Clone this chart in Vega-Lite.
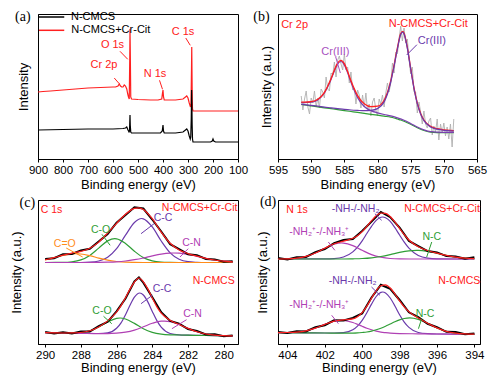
{
"$schema":"https://vega.github.io/schema/vega-lite/v6.json",
"padding":{"left":9,"top":9,"right":2,"bottom":2},
"config":{"view":{"stroke":"black","strokeWidth":1},
"axis":{"grid":false,"domainColor":"black","tickColor":"black","labelColor":"black","titleColor":"black","labelFontSize":11.5,"titleFontSize":13,"titleFontWeight":"normal","labelFont":"Liberation Sans","titleFont":"Liberation Sans","tickSize":3,"labelPadding":2,"labelFlush":false,"labelOverlap":false},
"text":{"font":"Liberation Sans"}},
"datasets":{
"a_lines":[
{"e":900,"i":67,"s":"N-CMCS+Cr-Cit"},{"e":880,"i":67.5,"s":"N-CMCS+Cr-Cit"},{"e":850,"i":68,"s":"N-CMCS+Cr-Cit"},{"e":800,"i":69,"s":"N-CMCS+Cr-Cit"},{"e":750,"i":70,"s":"N-CMCS+Cr-Cit"},{"e":700,"i":71,"s":"N-CMCS+Cr-Cit"},{"e":650,"i":71.5,"s":"N-CMCS+Cr-Cit"},{"e":600,"i":72,"s":"N-CMCS+Cr-Cit"},{"e":590,"i":72,"s":"N-CMCS+Cr-Cit"},{"e":580,"i":73,"s":"N-CMCS+Cr-Cit"},{"e":575,"i":75,"s":"N-CMCS+Cr-Cit"},{"e":570,"i":73,"s":"N-CMCS+Cr-Cit"},{"e":565,"i":72,"s":"N-CMCS+Cr-Cit"},{"e":560,"i":72,"s":"N-CMCS+Cr-Cit"},{"e":555,"i":74,"s":"N-CMCS+Cr-Cit"},{"e":550,"i":73,"s":"N-CMCS+Cr-Cit"},{"e":545,"i":70,"s":"N-CMCS+Cr-Cit"},{"e":541,"i":65,"s":"N-CMCS+Cr-Cit"},{"e":538,"i":62,"s":"N-CMCS+Cr-Cit"},{"e":535,"i":60,"s":"N-CMCS+Cr-Cit"},{"e":533,"i":100,"s":"N-CMCS+Cr-Cit"},{"e":532,"i":130,"s":"N-CMCS+Cr-Cit"},{"e":531,"i":110,"s":"N-CMCS+Cr-Cit"},{"e":529,"i":62,"s":"N-CMCS+Cr-Cit"},{"e":526,"i":60,"s":"N-CMCS+Cr-Cit"},{"e":500,"i":59.5,"s":"N-CMCS+Cr-Cit"},{"e":450,"i":59,"s":"N-CMCS+Cr-Cit"},{"e":420,"i":59,"s":"N-CMCS+Cr-Cit"},{"e":405,"i":60,"s":"N-CMCS+Cr-Cit"},{"e":402,"i":66,"s":"N-CMCS+Cr-Cit"},{"e":400,"i":69,"s":"N-CMCS+Cr-Cit"},{"e":398,"i":62,"s":"N-CMCS+Cr-Cit"},{"e":395,"i":59,"s":"N-CMCS+Cr-Cit"},{"e":380,"i":59,"s":"N-CMCS+Cr-Cit"},{"e":350,"i":59,"s":"N-CMCS+Cr-Cit"},{"e":320,"i":60,"s":"N-CMCS+Cr-Cit"},{"e":310,"i":62,"s":"N-CMCS+Cr-Cit"},{"e":305,"i":63,"s":"N-CMCS+Cr-Cit"},{"e":300,"i":61,"s":"N-CMCS+Cr-Cit"},{"e":295,"i":56,"s":"N-CMCS+Cr-Cit"},{"e":290,"i":52,"s":"N-CMCS+Cr-Cit"},{"e":288,"i":55,"s":"N-CMCS+Cr-Cit"},{"e":286,"i":90,"s":"N-CMCS+Cr-Cit"},{"e":285,"i":112,"s":"N-CMCS+Cr-Cit"},{"e":284,"i":85,"s":"N-CMCS+Cr-Cit"},{"e":283,"i":60,"s":"N-CMCS+Cr-Cit"},{"e":282,"i":50,"s":"N-CMCS+Cr-Cit"},{"e":280,"i":48,"s":"N-CMCS+Cr-Cit"},{"e":250,"i":48,"s":"N-CMCS+Cr-Cit"},{"e":200,"i":48,"s":"N-CMCS+Cr-Cit"},{"e":150,"i":48,"s":"N-CMCS+Cr-Cit"},{"e":100,"i":48,"s":"N-CMCS+Cr-Cit"},
{"e":900,"i":29,"s":"N-CMCS"},{"e":800,"i":29.5,"s":"N-CMCS"},{"e":700,"i":30,"s":"N-CMCS"},{"e":600,"i":30,"s":"N-CMCS"},{"e":560,"i":30.5,"s":"N-CMCS"},{"e":550,"i":31,"s":"N-CMCS"},{"e":545,"i":32,"s":"N-CMCS"},{"e":540,"i":29,"s":"N-CMCS"},{"e":536,"i":27,"s":"N-CMCS"},{"e":534,"i":28,"s":"N-CMCS"},{"e":533,"i":36,"s":"N-CMCS"},{"e":532,"i":44,"s":"N-CMCS"},{"e":531,"i":34,"s":"N-CMCS"},{"e":529,"i":27,"s":"N-CMCS"},{"e":526,"i":26,"s":"N-CMCS"},{"e":500,"i":26,"s":"N-CMCS"},{"e":450,"i":26,"s":"N-CMCS"},{"e":410,"i":26,"s":"N-CMCS"},{"e":403,"i":28,"s":"N-CMCS"},{"e":400,"i":34,"s":"N-CMCS"},{"e":398,"i":28,"s":"N-CMCS"},{"e":395,"i":26,"s":"N-CMCS"},{"e":350,"i":26,"s":"N-CMCS"},{"e":320,"i":27,"s":"N-CMCS"},{"e":310,"i":29,"s":"N-CMCS"},{"e":305,"i":30,"s":"N-CMCS"},{"e":300,"i":28,"s":"N-CMCS"},{"e":295,"i":23,"s":"N-CMCS"},{"e":291,"i":20,"s":"N-CMCS"},{"e":289,"i":22,"s":"N-CMCS"},{"e":287,"i":40,"s":"N-CMCS"},{"e":285.5,"i":69,"s":"N-CMCS"},{"e":284.5,"i":55,"s":"N-CMCS"},{"e":283.5,"i":35,"s":"N-CMCS"},{"e":282,"i":20,"s":"N-CMCS"},{"e":280,"i":17,"s":"N-CMCS"},{"e":250,"i":17,"s":"N-CMCS"},{"e":210,"i":17,"s":"N-CMCS"},{"e":203,"i":18,"s":"N-CMCS"},{"e":200,"i":20,"s":"N-CMCS"},{"e":197,"i":18,"s":"N-CMCS"},{"e":190,"i":17,"s":"N-CMCS"},{"e":150,"i":17,"s":"N-CMCS"},{"e":100,"i":17,"s":"N-CMCS"}],
"a_leg":[{"e":896,"e2":795,"i":142,"s":"N-CMCS"},{"e":896,"e2":795,"i":128.7,"s":"N-CMCS+Cr-Cit"}],
"a_lab":[{"e":680,"i":142,"t":"N-CMCS","k":"ref"},{"e":609,"i":128.7,"t":"N-CMCS+Cr-Cit","k":"ref"},{"e":602,"i":113.7,"t":"O 1s","k":"sample"},{"e":320,"i":127,"t":"C 1s","k":"sample"},{"e":636,"i":93.7,"t":"Cr 2p","k":"sample"},{"e":432,"i":85.3,"t":"N 1s","k":"sample"}],
"a_arr":[{"e":572,"i":107.7,"e2":541,"i2":99.7,"k":"sample"},{"e":309,"i":121,"e2":291,"i2":113.7,"k":"sample"},{"e":595,"i":81,"e2":575,"i2":75.3,"k":"sample"},{"e":414,"i":78.7,"e2":402,"i2":69.7,"k":"sample"}],
"b_raw":[{"e":591.5,"i":63},{"e":591.25,"i":49},{"e":591,"i":60},{"e":590.75,"i":68},{"e":590.5,"i":52},{"e":590.25,"i":45},{"e":590,"i":61},{"e":589.75,"i":56},{"e":589.5,"i":68},{"e":589.25,"i":52},{"e":589,"i":61},{"e":588.75,"i":51},{"e":588.5,"i":70},{"e":588.25,"i":67},{"e":588,"i":61},{"e":587.75,"i":82},{"e":587.5,"i":70},{"e":587.25,"i":68},{"e":587,"i":86},{"e":586.75,"i":84},{"e":586.5,"i":97},{"e":586.25,"i":82},{"e":586,"i":99},{"e":585.75,"i":103},{"e":585.5,"i":95},{"e":585.25,"i":89},{"e":585,"i":105},{"e":584.75,"i":89},{"e":584.5,"i":92},{"e":584.25,"i":76},{"e":584,"i":87},{"e":583.75,"i":69},{"e":583.5,"i":71},{"e":583.25,"i":55},{"e":583,"i":69},{"e":582.75,"i":64},{"e":582.5,"i":51},{"e":582.25,"i":64},{"e":582,"i":52},{"e":581.75,"i":66},{"e":581.5,"i":48},{"e":581.25,"i":55},{"e":581,"i":43},{"e":580.75,"i":57},{"e":580.5,"i":61},{"e":580.25,"i":49},{"e":580,"i":43},{"e":579.75,"i":60},{"e":579.5,"i":55},{"e":579.25,"i":64},{"e":579,"i":52},{"e":578.75,"i":66},{"e":578.5,"i":76},{"e":578.25,"i":67},{"e":578,"i":76},{"e":577.75,"i":96},{"e":577.5,"i":86},{"e":577.25,"i":107},{"e":577,"i":105},{"e":576.75,"i":120},{"e":576.5,"i":133},{"e":576.25,"i":118},{"e":576,"i":131},{"e":575.75,"i":116},{"e":575.5,"i":120},{"e":575.25,"i":100},{"e":575,"i":85},{"e":574.75,"i":92},{"e":574.5,"i":67},{"e":574.25,"i":67},{"e":574,"i":46},{"e":573.75,"i":57},{"e":573.5,"i":47},{"e":573.25,"i":35},{"e":573,"i":48},{"e":572.75,"i":35},{"e":572.5,"i":31},{"e":572.25,"i":38},{"e":572,"i":41},{"e":571.75,"i":24},{"e":571.5,"i":33},{"e":571.25,"i":27},{"e":571,"i":40},{"e":570.75,"i":19},{"e":570.5,"i":35},{"e":570.25,"i":26},{"e":570,"i":36},{"e":569.75,"i":23},{"e":569.5,"i":32},{"e":569.25,"i":20},{"e":569,"i":35},{"e":568.75,"i":12},{"e":568.5,"i":40}],
"b_comp":[
{"e":591.5,"i":54.5,"s":"bg"},{"e":591,"i":54.0,"s":"bg"},{"e":590,"i":53.1,"s":"bg"},{"e":589,"i":52.2,"s":"bg"},{"e":588,"i":51.2,"s":"bg"},{"e":587,"i":50.3,"s":"bg"},{"e":586,"i":49.4,"s":"bg"},{"e":585,"i":48.4,"s":"bg"},{"e":584,"i":47.5,"s":"bg"},{"e":583,"i":46.6,"s":"bg"},{"e":582,"i":45.6,"s":"bg"},{"e":581,"i":44.7,"s":"bg"},{"e":580,"i":43.8,"s":"bg"},{"e":579,"i":42.8,"s":"bg"},{"e":578,"i":41.8,"s":"bg"},{"e":577.5,"i":41.0,"s":"bg"},{"e":577,"i":40.0,"s":"bg"},{"e":576.5,"i":39.0,"s":"bg"},{"e":576,"i":37.8,"s":"bg"},{"e":575.5,"i":36.3,"s":"bg"},{"e":575,"i":34.7,"s":"bg"},{"e":574.5,"i":33.0,"s":"bg"},{"e":574,"i":31.3,"s":"bg"},{"e":573.5,"i":29.8,"s":"bg"},{"e":573,"i":28.5,"s":"bg"},{"e":572.5,"i":27.5,"s":"bg"},{"e":572,"i":26.8,"s":"bg"},{"e":571,"i":26.4,"s":"bg"},{"e":570,"i":26.3,"s":"bg"},{"e":569,"i":26.3,"s":"bg"},{"e":568.5,"i":26.3,"s":"bg"},
{"e":591.5,"i":56.5,"s":"p1"},{"e":591,"i":56.4,"s":"p1"},{"e":590,"i":56.8,"s":"p1"},{"e":589,"i":59.1,"s":"p1"},{"e":588,"i":66.0,"s":"p1"},{"e":587.5,"i":72.2,"s":"p1"},{"e":587,"i":79.6,"s":"p1"},{"e":586.5,"i":88.0,"s":"p1"},{"e":586,"i":95.1,"s":"p1"},{"e":585.5,"i":97.5,"s":"p1"},{"e":585,"i":94.1,"s":"p1"},{"e":584.5,"i":86.1,"s":"p1"},{"e":584,"i":76.8,"s":"p1"},{"e":583.5,"i":68.5,"s":"p1"},{"e":583,"i":61.4,"s":"p1"},{"e":582,"i":52.5,"s":"p1"},{"e":581,"i":48.4,"s":"p1"},{"e":580,"i":46.2,"s":"p1"},{"e":579,"i":44.5,"s":"p1"},{"e":578,"i":43.1,"s":"p1"},{"e":577,"i":41.1,"s":"p1"},{"e":576,"i":38.7,"s":"p1"},{"e":575,"i":35.5,"s":"p1"},{"e":574,"i":32.0,"s":"p1"},{"e":573,"i":29.1,"s":"p1"},{"e":572,"i":27.3,"s":"p1"},{"e":570,"i":26.6,"s":"p1"},{"e":568.5,"i":26.5,"s":"p1"},
{"e":591.5,"i":54.9,"s":"p2"},{"e":591,"i":54.4,"s":"p2"},{"e":590,"i":53.6,"s":"p2"},{"e":589,"i":52.8,"s":"p2"},{"e":588,"i":51.9,"s":"p2"},{"e":587,"i":51.2,"s":"p2"},{"e":586,"i":50.4,"s":"p2"},{"e":585,"i":49.6,"s":"p2"},{"e":584,"i":49.0,"s":"p2"},{"e":583,"i":48.6,"s":"p2"},{"e":582,"i":48.3,"s":"p2"},{"e":581,"i":48.6,"s":"p2"},{"e":580,"i":50.4,"s":"p2"},{"e":579,"i":57.1,"s":"p2"},{"e":578.5,"i":65.0,"s":"p2"},{"e":578,"i":77.0,"s":"p2"},{"e":577.5,"i":92.8,"s":"p2"},{"e":577,"i":110.0,"s":"p2"},{"e":576.5,"i":124.6,"s":"p2"},{"e":576.2,"i":126.8,"s":"p2"},{"e":576,"i":125.0,"s":"p2"},{"e":575.5,"i":110.7,"s":"p2"},{"e":575,"i":90.1,"s":"p2"},{"e":574.5,"i":70.5,"s":"p2"},{"e":574,"i":55.3,"s":"p2"},{"e":573.5,"i":44.9,"s":"p2"},{"e":573,"i":38.4,"s":"p2"},{"e":572,"i":32.0,"s":"p2"},{"e":571,"i":29.8,"s":"p2"},{"e":570,"i":28.7,"s":"p2"},{"e":569,"i":28.1,"s":"p2"},{"e":568.5,"i":27.9,"s":"p2"}],
"b_fit":[{"e":591.5,"i":56.9},{"e":591,"i":56.8},{"e":590,"i":57.3},{"e":589,"i":59.7},{"e":588,"i":66.7},{"e":587.5,"i":73.0},{"e":587,"i":80.5},{"e":586.5,"i":89.0},{"e":586,"i":96.1},{"e":585.5,"i":98.6},{"e":585,"i":95.3},{"e":584.5,"i":87.5},{"e":584,"i":78.3},{"e":583.5,"i":70.3},{"e":583,"i":63.4},{"e":582,"i":55.2},{"e":581,"i":52.3},{"e":580,"i":52.8},{"e":579,"i":58.8},{"e":578.5,"i":66.5},{"e":578,"i":78.3},{"e":577.5,"i":94.0},{"e":577,"i":111.1},{"e":576.5,"i":125.5},{"e":576.2,"i":127.7},{"e":576,"i":125.9},{"e":575.5,"i":111.5},{"e":575,"i":90.9},{"e":574.5,"i":71.2},{"e":574,"i":56.0},{"e":573.5,"i":45.6},{"e":573,"i":39.0},{"e":572,"i":32.6},{"e":571,"i":30.3},{"e":570,"i":29.1},{"e":569,"i":28.5},{"e":568.5,"i":28.3}],
"b_lab":[{"e":592.5,"i":133.7,"t":"Cr 2p","k":"sample"},{"e":572.35,"i":135.3,"t":"N-CMCS+Cr-Cit","k":"sample"},{"e":571.8,"i":117.7,"t":"Cr(III)","k":"Cr2"},{"e":586.35,"i":107.3,"t":"Cr(III)","k":"Cr1"}],
"b_arr":[{"e":574.06,"i":114.3,"e2":575.6,"i2":104,"k":"Cr2"},{"e":586.3,"i":102,"e2":585.6,"i2":86,"k":"Cr1"}],
"c_comp":[
{"e":290,"i":81.5,"s":"tCC"},{"e":289,"i":81.5,"s":"tCC"},{"e":288,"i":81.5,"s":"tCC"},{"e":287.5,"i":81.8,"s":"tCC"},{"e":287,"i":83.0,"s":"tCC"},{"e":286.5,"i":86.7,"s":"tCC"},{"e":286,"i":95.3,"s":"tCC"},{"e":285.5,"i":108.8,"s":"tCC"},{"e":285,"i":121.5,"s":"tCC"},{"e":284.6,"i":125.5,"s":"tCC"},{"e":284.5,"i":125.2,"s":"tCC"},{"e":284,"i":117.1,"s":"tCC"},{"e":283.5,"i":103.0,"s":"tCC"},{"e":283,"i":91.2,"s":"tCC"},{"e":282.5,"i":84.8,"s":"tCC"},{"e":282,"i":82.3,"s":"tCC"},{"e":281.5,"i":81.7,"s":"tCC"},{"e":281,"i":81.5,"s":"tCC"},{"e":280,"i":81.5,"s":"tCC"},{"e":279.5,"i":81.5,"s":"tCC"},
{"e":290,"i":81.5,"s":"tCO"},{"e":289,"i":81.6,"s":"tCO"},{"e":288.5,"i":82.2,"s":"tCO"},{"e":288,"i":84.1,"s":"tCO"},{"e":287.5,"i":88.6,"s":"tCO"},{"e":287,"i":95.9,"s":"tCO"},{"e":286.5,"i":103.1,"s":"tCO"},{"e":286.1,"i":105.3,"s":"tCO"},{"e":286,"i":105.2,"s":"tCO"},{"e":285.5,"i":100.6,"s":"tCO"},{"e":285,"i":92.8,"s":"tCO"},{"e":284.5,"i":86.4,"s":"tCO"},{"e":284,"i":83.1,"s":"tCO"},{"e":283.5,"i":81.9,"s":"tCO"},{"e":283,"i":81.6,"s":"tCO"},{"e":282.5,"i":81.5,"s":"tCO"},{"e":279.5,"i":81.5,"s":"tCO"},
{"e":290,"i":84.2,"s":"tCO2"},{"e":289.5,"i":86.4,"s":"tCO2"},{"e":289,"i":88.7,"s":"tCO2"},{"e":288.5,"i":90.2,"s":"tCO2"},{"e":288.3,"i":90.3,"s":"tCO2"},{"e":288,"i":90.0,"s":"tCO2"},{"e":287.5,"i":88.3,"s":"tCO2"},{"e":287,"i":85.9,"s":"tCO2"},{"e":286.5,"i":83.8,"s":"tCO2"},{"e":286,"i":82.5,"s":"tCO2"},{"e":285.5,"i":81.8,"s":"tCO2"},{"e":285,"i":81.6,"s":"tCO2"},{"e":284.5,"i":81.5,"s":"tCO2"},{"e":279.5,"i":81.5,"s":"tCO2"},
{"e":290,"i":81.5,"s":"tCN"},{"e":287.5,"i":81.5,"s":"tCN"},{"e":287,"i":81.6,"s":"tCN"},{"e":286.5,"i":81.8,"s":"tCN"},{"e":286,"i":82.2,"s":"tCN"},{"e":285.5,"i":83.0,"s":"tCN"},{"e":285,"i":84.3,"s":"tCN"},{"e":284.5,"i":86.0,"s":"tCN"},{"e":284,"i":88.1,"s":"tCN"},{"e":283.5,"i":89.9,"s":"tCN"},{"e":283,"i":90.9,"s":"tCN"},{"e":282.8,"i":91.0,"s":"tCN"},{"e":282.5,"i":90.8,"s":"tCN"},{"e":282,"i":89.6,"s":"tCN"},{"e":281.5,"i":87.7,"s":"tCN"},{"e":281,"i":85.7,"s":"tCN"},{"e":280.5,"i":84.0,"s":"tCN"},{"e":280,"i":82.8,"s":"tCN"},{"e":279.5,"i":82.1,"s":"tCN"},
{"e":290,"i":11.3,"s":"bCC"},{"e":289,"i":11.0,"s":"bCC"},{"e":288,"i":10.7,"s":"bCC"},{"e":287,"i":10.5,"s":"bCC"},{"e":286.5,"i":11.1,"s":"bCC"},{"e":286,"i":15.7,"s":"bCC"},{"e":285.75,"i":21.2,"s":"bCC"},{"e":285.5,"i":29.3,"s":"bCC"},{"e":285.25,"i":38.8,"s":"bCC"},{"e":285,"i":46.9,"s":"bCC"},{"e":284.7,"i":51.0,"s":"bCC"},{"e":284.5,"i":49.0,"s":"bCC"},{"e":284.25,"i":42.1,"s":"bCC"},{"e":284,"i":32.6,"s":"bCC"},{"e":283.75,"i":23.6,"s":"bCC"},{"e":283.5,"i":16.8,"s":"bCC"},{"e":283,"i":10.5,"s":"bCC"},{"e":282.5,"i":9.1,"s":"bCC"},{"e":282,"i":8.8,"s":"bCC"},{"e":281,"i":8.5,"s":"bCC"},{"e":280,"i":8.2,"s":"bCC"},{"e":279.5,"i":8.1,"s":"bCC"},
{"e":290,"i":11.3,"s":"bCO"},{"e":289,"i":11.0,"s":"bCO"},{"e":288.5,"i":11.1,"s":"bCO"},{"e":288,"i":11.5,"s":"bCO"},{"e":287.5,"i":13.2,"s":"bCO"},{"e":287,"i":17.0,"s":"bCO"},{"e":286.5,"i":22.0,"s":"bCO"},{"e":286,"i":25.7,"s":"bCO"},{"e":285.8,"i":26.0,"s":"bCO"},{"e":285.5,"i":25.0,"s":"bCO"},{"e":285,"i":20.6,"s":"bCO"},{"e":284.5,"i":15.2,"s":"bCO"},{"e":284,"i":11.7,"s":"bCO"},{"e":283.5,"i":9.9,"s":"bCO"},{"e":283,"i":9.2,"s":"bCO"},{"e":282.5,"i":9.0,"s":"bCO"},{"e":282,"i":8.8,"s":"bCO"},{"e":281,"i":8.5,"s":"bCO"},{"e":280,"i":8.2,"s":"bCO"},{"e":279.5,"i":8.1,"s":"bCO"},
{"e":290,"i":11.3,"s":"bCN"},{"e":288,"i":10.7,"s":"bCN"},{"e":287,"i":10.4,"s":"bCN"},{"e":286.5,"i":10.4,"s":"bCN"},{"e":286,"i":10.8,"s":"bCN"},{"e":285.5,"i":11.8,"s":"bCN"},{"e":285,"i":13.9,"s":"bCN"},{"e":284.5,"i":17.2,"s":"bCN"},{"e":284,"i":20.7,"s":"bCN"},{"e":283.5,"i":22.8,"s":"bCN"},{"e":283.3,"i":22.9,"s":"bCN"},{"e":283,"i":22.3,"s":"bCN"},{"e":282.5,"i":19.5,"s":"bCN"},{"e":282,"i":15.6,"s":"bCN"},{"e":281.5,"i":12.3,"s":"bCN"},{"e":281,"i":10.0,"s":"bCN"},{"e":280.5,"i":8.9,"s":"bCN"},{"e":280,"i":8.4,"s":"bCN"},{"e":279.5,"i":8.1,"s":"bCN"}],
"c_fit":[
{"e":290,"i":84.2,"s":"t"},{"e":289.5,"i":86.4,"s":"t"},{"e":289,"i":88.8,"s":"t"},{"e":288.5,"i":90.9,"s":"t"},{"e":288,"i":92.6,"s":"t"},{"e":287.5,"i":95.7,"s":"t"},{"e":287,"i":101.9,"s":"t"},{"e":286.5,"i":110.9,"s":"t"},{"e":286,"i":120.7,"s":"t"},{"e":285.5,"i":129.7,"s":"t"},{"e":285,"i":135.7,"s":"t"},{"e":284.75,"i":136.2,"s":"t"},{"e":284.5,"i":134.6,"s":"t"},{"e":284,"i":125.3,"s":"t"},{"e":283.5,"i":111.8,"s":"t"},{"e":283,"i":100.7,"s":"t"},{"e":282.5,"i":94.1,"s":"t"},{"e":282,"i":90.4,"s":"t"},{"e":281.5,"i":87.9,"s":"t"},{"e":281,"i":85.7,"s":"t"},{"e":280.5,"i":84.0,"s":"t"},{"e":280,"i":82.8,"s":"t"},{"e":279.5,"i":82.1,"s":"t"},
{"e":290,"i":11.3,"s":"b"},{"e":289.5,"i":11.2,"s":"b"},{"e":289,"i":11.0,"s":"b"},{"e":288.5,"i":11.1,"s":"b"},{"e":288,"i":11.5,"s":"b"},{"e":287.5,"i":13.2,"s":"b"},{"e":287,"i":17.1,"s":"b"},{"e":286.5,"i":23.1,"s":"b"},{"e":286,"i":32.0,"s":"b"},{"e":285.75,"i":38.4,"s":"b"},{"e":285.5,"i":46.3,"s":"b"},{"e":285.25,"i":54.9,"s":"b"},{"e":285,"i":61.8,"s":"b"},{"e":284.75,"i":66.0,"s":"b"},{"e":284.5,"i":62.2,"s":"b"},{"e":284.25,"i":55.1,"s":"b"},{"e":284,"i":46.0,"s":"b"},{"e":283.75,"i":37.4,"s":"b"},{"e":283.5,"i":30.9,"s":"b"},{"e":283,"i":23.8,"s":"b"},{"e":282.5,"i":19.6,"s":"b"},{"e":282,"i":15.6,"s":"b"},{"e":281.5,"i":12.3,"s":"b"},{"e":281,"i":10.0,"s":"b"},{"e":280.5,"i":8.9,"s":"b"},{"e":280,"i":8.4,"s":"b"},{"e":279.5,"i":8.1,"s":"b"}],
"c_data":[
{"e":290,"i":85.0,"s":"t"},{"e":289.5,"i":85.8,"s":"t"},{"e":289,"i":89.7,"s":"t"},{"e":288.5,"i":90.1,"s":"t"},{"e":288,"i":93.6,"s":"t"},{"e":287.5,"i":95.2,"s":"t"},{"e":287,"i":102.6,"s":"t"},{"e":286.5,"i":110.0,"s":"t"},{"e":286,"i":121.3,"s":"t"},{"e":285.5,"i":129.0,"s":"t"},{"e":285,"i":136.7,"s":"t"},{"e":284.5,"i":135.5,"s":"t"},{"e":284,"i":124.5,"s":"t"},{"e":283.5,"i":112.5,"s":"t"},{"e":283,"i":99.8,"s":"t"},{"e":282.5,"i":94.9,"s":"t"},{"e":282,"i":89.8,"s":"t"},{"e":281.5,"i":88.8,"s":"t"},{"e":281,"i":85.0,"s":"t"},{"e":280.5,"i":84.6,"s":"t"},{"e":280,"i":82.3,"s":"t"},{"e":279.5,"i":82.8,"s":"t"},
{"e":290,"i":12.0,"s":"b"},{"e":289.5,"i":10.6,"s":"b"},{"e":289,"i":11.8,"s":"b"},{"e":288.5,"i":10.6,"s":"b"},{"e":288,"i":12.4,"s":"b"},{"e":287.5,"i":12.5,"s":"b"},{"e":287,"i":17.9,"s":"b"},{"e":286.5,"i":22.2,"s":"b"},{"e":286,"i":32.7,"s":"b"},{"e":285.5,"i":45.5,"s":"b"},{"e":285,"i":62.7,"s":"b"},{"e":284.75,"i":66.6,"s":"b"},{"e":284.5,"i":61.3,"s":"b"},{"e":284,"i":46.8,"s":"b"},{"e":283.5,"i":31.8,"s":"b"},{"e":283,"i":23.1,"s":"b"},{"e":282.5,"i":20.4,"s":"b"},{"e":282,"i":15.0,"s":"b"},{"e":281.5,"i":13.0,"s":"b"},{"e":281,"i":9.5,"s":"b"},{"e":280.5,"i":9.7,"s":"b"},{"e":280,"i":7.8,"s":"b"},{"e":279.5,"i":8.6,"s":"b"}],
"c_lab":[{"e":289.64,"i":133.7,"t":"C 1s","k":"sample"},{"e":281.35,"i":136.3,"t":"N-CMCS+Cr-Cit","k":"sample"},{"e":280.56,"i":62.7,"t":"N-CMCS","k":"sample"},{"e":288.9,"i":100.3,"t":"C=O","k":"C=O"},{"e":286.9,"i":114.3,"t":"C-O","k":"C-O"},{"e":283.4,"i":126,"t":"C-C","k":"C-C"},{"e":281.8,"i":101,"t":"C-N","k":"C-N"},{"e":283.45,"i":55.3,"t":"C-C","k":"C-C"},{"e":286.82,"i":33,"t":"C-O","k":"C-O"},{"e":281.75,"i":30.3,"t":"C-N","k":"C-N"}],
"c_arr":[{"e":288.82,"i":96,"e2":287.9,"i2":87,"k":"C=O"},{"e":286.82,"i":109.7,"e2":286.36,"i2":98.7,"k":"C-O"},{"e":283.9,"i":120.3,"e2":284.63,"i2":110.3,"k":"C-C"},{"e":281.99,"i":95.3,"e2":282.45,"i2":87,"k":"C-N"},{"e":284.0,"i":48.7,"e2":284.63,"i2":40.3,"k":"C-C"},{"e":286.73,"i":27.7,"e2":286.27,"i2":20.3,"k":"C-O"},{"e":282.08,"i":24.3,"e2":282.9,"i2":15.3,"k":"C-N"}],
"d_comp":[
{"e":404.5,"i":85.0,"s":"tNH"},{"e":402,"i":85.1,"s":"tNH"},{"e":401.5,"i":85.4,"s":"tNH"},{"e":401,"i":87.0,"s":"tNH"},{"e":400.5,"i":92.1,"s":"tNH"},{"e":400.25,"i":96.9,"s":"tNH"},{"e":400,"i":103.2,"s":"tNH"},{"e":399.75,"i":110.5,"s":"tNH"},{"e":399.5,"i":117.7,"s":"tNH"},{"e":399.25,"i":123.6,"s":"tNH"},{"e":399,"i":126.7,"s":"tNH"},{"e":398.9,"i":127.0,"s":"tNH"},{"e":398.75,"i":126.3,"s":"tNH"},{"e":398.5,"i":122.6,"s":"tNH"},{"e":398.25,"i":116.3,"s":"tNH"},{"e":398,"i":109.0,"s":"tNH"},{"e":397.75,"i":101.8,"s":"tNH"},{"e":397.5,"i":95.8,"s":"tNH"},{"e":397,"i":88.5,"s":"tNH"},{"e":396.5,"i":85.8,"s":"tNH"},{"e":396,"i":85.1,"s":"tNH"},{"e":395,"i":85.0,"s":"tNH"},{"e":394,"i":85.0,"s":"tNH"},
{"e":404.5,"i":85.0,"s":"tNH3"},{"e":404,"i":85.2,"s":"tNH3"},{"e":403.5,"i":85.9,"s":"tNH3"},{"e":403,"i":87.6,"s":"tNH3"},{"e":402.5,"i":91.0,"s":"tNH3"},{"e":402,"i":95.7,"s":"tNH3"},{"e":401.5,"i":99.8,"s":"tNH3"},{"e":401.1,"i":101.0,"s":"tNH3"},{"e":401,"i":100.9,"s":"tNH3"},{"e":400.5,"i":98.4,"s":"tNH3"},{"e":400,"i":93.7,"s":"tNH3"},{"e":399.5,"i":89.4,"s":"tNH3"},{"e":399,"i":86.8,"s":"tNH3"},{"e":398.5,"i":85.5,"s":"tNH3"},{"e":398,"i":85.1,"s":"tNH3"},{"e":397,"i":85.0,"s":"tNH3"},{"e":394,"i":85.0,"s":"tNH3"},
{"e":404.5,"i":85.0,"s":"tNC"},{"e":401,"i":85.0,"s":"tNC"},{"e":400.5,"i":85.2,"s":"tNC"},{"e":400,"i":85.5,"s":"tNC"},{"e":399.5,"i":86.2,"s":"tNC"},{"e":399,"i":87.5,"s":"tNC"},{"e":398.5,"i":89.4,"s":"tNC"},{"e":398,"i":91.6,"s":"tNC"},{"e":397.5,"i":93.2,"s":"tNC"},{"e":397.1,"i":93.7,"s":"tNC"},{"e":397,"i":93.7,"s":"tNC"},{"e":396.5,"i":92.7,"s":"tNC"},{"e":396,"i":90.7,"s":"tNC"},{"e":395.5,"i":88.6,"s":"tNC"},{"e":395,"i":86.9,"s":"tNC"},{"e":394.5,"i":85.8,"s":"tNC"},{"e":394,"i":85.3,"s":"tNC"},
{"e":404.5,"i":11.4,"s":"bNH"},{"e":403,"i":11.1,"s":"bNH"},{"e":402,"i":11.0,"s":"bNH"},{"e":401.5,"i":11.0,"s":"bNH"},{"e":401,"i":11.4,"s":"bNH"},{"e":400.5,"i":14.2,"s":"bNH"},{"e":400.25,"i":17.9,"s":"bNH"},{"e":400,"i":23.6,"s":"bNH"},{"e":399.75,"i":31.3,"s":"bNH"},{"e":399.5,"i":39.9,"s":"bNH"},{"e":399.25,"i":47.5,"s":"bNH"},{"e":399,"i":51.6,"s":"bNH"},{"e":398.9,"i":52.0,"s":"bNH"},{"e":398.75,"i":51.1,"s":"bNH"},{"e":398.5,"i":46.0,"s":"bNH"},{"e":398.25,"i":38.0,"s":"bNH"},{"e":398,"i":29.3,"s":"bNH"},{"e":397.75,"i":21.9,"s":"bNH"},{"e":397.5,"i":16.6,"s":"bNH"},{"e":397,"i":11.5,"s":"bNH"},{"e":396.5,"i":10.3,"s":"bNH"},{"e":396,"i":10.0,"s":"bNH"},{"e":395,"i":9.9,"s":"bNH"},{"e":394,"i":9.7,"s":"bNH"},
{"e":404.5,"i":11.4,"s":"bNH3"},{"e":404,"i":11.5,"s":"bNH3"},{"e":403.5,"i":11.9,"s":"bNH3"},{"e":403,"i":13.2,"s":"bNH3"},{"e":402.5,"i":15.9,"s":"bNH3"},{"e":402,"i":19.6,"s":"bNH3"},{"e":401.5,"i":22.8,"s":"bNH3"},{"e":401.1,"i":23.7,"s":"bNH3"},{"e":401,"i":23.6,"s":"bNH3"},{"e":400.5,"i":21.5,"s":"bNH3"},{"e":400.25,"i":19.7,"s":"bNH3"},{"e":400,"i":17.7,"s":"bNH3"},{"e":399.75,"i":15.8,"s":"bNH3"},{"e":399.5,"i":14.2,"s":"bNH3"},{"e":399.25,"i":12.9,"s":"bNH3"},{"e":399,"i":11.9,"s":"bNH3"},{"e":398.75,"i":11.3,"s":"bNH3"},{"e":398.5,"i":10.8,"s":"bNH3"},{"e":398,"i":10.4,"s":"bNH3"},{"e":397,"i":10.2,"s":"bNH3"},{"e":396,"i":10.0,"s":"bNH3"},{"e":395,"i":9.9,"s":"bNH3"},{"e":394,"i":9.7,"s":"bNH3"},
{"e":404.5,"i":11.4,"s":"bNC"},{"e":402,"i":11.0,"s":"bNC"},{"e":401,"i":10.8,"s":"bNC"},{"e":400.5,"i":10.9,"s":"bNC"},{"e":400.25,"i":11.1,"s":"bNC"},{"e":400,"i":11.5,"s":"bNC"},{"e":399.75,"i":12.0,"s":"bNC"},{"e":399.5,"i":12.9,"s":"bNC"},{"e":399.25,"i":14.2,"s":"bNC"},{"e":399,"i":15.8,"s":"bNC"},{"e":398.75,"i":17.8,"s":"bNC"},{"e":398.5,"i":20.0,"s":"bNC"},{"e":398.25,"i":22.2,"s":"bNC"},{"e":398,"i":24.1,"s":"bNC"},{"e":397.75,"i":25.5,"s":"bNC"},{"e":397.45,"i":26.1,"s":"bNC"},{"e":397,"i":24.6,"s":"bNC"},{"e":396.5,"i":20.6,"s":"bNC"},{"e":396,"i":16.1,"s":"bNC"},{"e":395.5,"i":12.7,"s":"bNC"},{"e":395,"i":10.9,"s":"bNC"},{"e":394.5,"i":10.1,"s":"bNC"},{"e":394,"i":9.8,"s":"bNC"}],
"d_fit":[
{"e":404.5,"i":85.0,"s":"t"},{"e":404,"i":85.2,"s":"t"},{"e":403.5,"i":85.9,"s":"t"},{"e":403,"i":87.6,"s":"t"},{"e":402.5,"i":91.0,"s":"t"},{"e":402,"i":95.8,"s":"t"},{"e":401.5,"i":100.2,"s":"t"},{"e":401,"i":102.9,"s":"t"},{"e":400.5,"i":105.7,"s":"t"},{"e":400.25,"i":108.3,"s":"t"},{"e":400,"i":112.4,"s":"t"},{"e":399.75,"i":117.7,"s":"t"},{"e":399.5,"i":123.3,"s":"t"},{"e":399.25,"i":128.2,"s":"t"},{"e":399,"i":131.0,"s":"t"},{"e":398.75,"i":130.7,"s":"t"},{"e":398.5,"i":127.5,"s":"t"},{"e":398.25,"i":122.1,"s":"t"},{"e":398,"i":115.7,"s":"t"},{"e":397.75,"i":109.3,"s":"t"},{"e":397.5,"i":104.0,"s":"t"},{"e":397,"i":97.2,"s":"t"},{"e":396.5,"i":93.5,"s":"t"},{"e":396,"i":90.8,"s":"t"},{"e":395.5,"i":88.6,"s":"t"},{"e":395,"i":86.9,"s":"t"},{"e":394.5,"i":85.8,"s":"t"},{"e":394,"i":85.3,"s":"t"},
{"e":404.5,"i":11.4,"s":"b"},{"e":404,"i":11.5,"s":"b"},{"e":403.5,"i":11.9,"s":"b"},{"e":403,"i":13.2,"s":"b"},{"e":402.5,"i":15.9,"s":"b"},{"e":402,"i":19.6,"s":"b"},{"e":401.5,"i":22.9,"s":"b"},{"e":401,"i":24.2,"s":"b"},{"e":400.5,"i":25.2,"s":"b"},{"e":400.25,"i":27.3,"s":"b"},{"e":400,"i":31.4,"s":"b"},{"e":399.75,"i":37.9,"s":"b"},{"e":399.5,"i":45.8,"s":"b"},{"e":399.25,"i":53.4,"s":"b"},{"e":399,"i":58.3,"s":"b"},{"e":398.75,"i":59.2,"s":"b"},{"e":398.5,"i":56.0,"s":"b"},{"e":398.25,"i":50.0,"s":"b"},{"e":398,"i":43.2,"s":"b"},{"e":397.75,"i":37.1,"s":"b"},{"e":397.5,"i":32.4,"s":"b"},{"e":397,"i":25.9,"s":"b"},{"e":396.5,"i":20.8,"s":"b"},{"e":396,"i":16.1,"s":"b"},{"e":395.5,"i":12.7,"s":"b"},{"e":395,"i":10.9,"s":"b"},{"e":394.5,"i":10.1,"s":"b"},{"e":394,"i":9.8,"s":"b"}],
"d_data":[
{"e":404.5,"i":85.9,"s":"t"},{"e":404,"i":84.5,"s":"t"},{"e":403.5,"i":86.7,"s":"t"},{"e":403,"i":87.0,"s":"t"},{"e":402.5,"i":91.9,"s":"t"},{"e":402,"i":95.0,"s":"t"},{"e":401.5,"i":100.9,"s":"t"},{"e":401,"i":103.9,"s":"t"},{"e":400.5,"i":104.9,"s":"t"},{"e":400,"i":113.0,"s":"t"},{"e":399.5,"i":122.4,"s":"t"},{"e":399,"i":132.0,"s":"t"},{"e":398.5,"i":126.8,"s":"t"},{"e":398,"i":116.5,"s":"t"},{"e":397.5,"i":103.1,"s":"t"},{"e":397,"i":97.9,"s":"t"},{"e":396.5,"i":92.9,"s":"t"},{"e":396,"i":91.6,"s":"t"},{"e":395.5,"i":87.9,"s":"t"},{"e":395,"i":87.5,"s":"t"},{"e":394.5,"i":85.3,"s":"t"},{"e":394,"i":86.8,"s":"t"},
{"e":404.5,"i":12.1,"s":"b"},{"e":404,"i":10.9,"s":"b"},{"e":403.5,"i":12.7,"s":"b"},{"e":403,"i":12.5,"s":"b"},{"e":402.5,"i":16.8,"s":"b"},{"e":402,"i":18.8,"s":"b"},{"e":401.5,"i":23.7,"s":"b"},{"e":401,"i":23.6,"s":"b"},{"e":400.5,"i":26.1,"s":"b"},{"e":400,"i":30.6,"s":"b"},{"e":399.5,"i":46.5,"s":"b"},{"e":399,"i":59.2,"s":"b"},{"e":398.5,"i":55.1,"s":"b"},{"e":398,"i":44.0,"s":"b"},{"e":397.5,"i":31.7,"s":"b"},{"e":397,"i":26.8,"s":"b"},{"e":396.5,"i":20.2,"s":"b"},{"e":396,"i":16.8,"s":"b"},{"e":395.5,"i":12.2,"s":"b"},{"e":395,"i":12.1,"s":"b"},{"e":394.5,"i":9.7,"s":"b"},{"e":394,"i":10.4,"s":"b"}],
"d_lab":[{"e":403.48,"i":133.7,"t":"N 1s","k":"sample"},{"e":395.73,"i":135.3,"t":"N-CMCS+Cr-Cit","k":"sample"},{"e":394.81,"i":62.7,"t":"N-CMCS","k":"sample"},{"e":400.35,"i":135.3,"t":"-NH-/-NH₂","k":"NH"},{"e":402.29,"i":112,"t":"-NH₂⁺-/-NH₃⁺","k":"NH3"},{"e":396.28,"i":107,"t":"N-C","k":"NC"},{"e":400.51,"i":63,"t":"-NH-/-NH₂","k":"NH"},{"e":402.29,"i":38.7,"t":"-NH₂⁺-/-NH₃⁺","k":"NH3"},{"e":396.64,"i":30.3,"t":"N-C","k":"NC"}],
"d_arr":[{"e":399.32,"i":130.3,"e2":398.96,"i2":123.7,"k":"NH"},{"e":401.81,"i":102,"e2":401.46,"i2":93.7,"k":"NH3"},{"e":396.28,"i":102,"e2":396.55,"i2":87,"k":"NC"},{"e":399.5,"i":57,"e2":399.05,"i2":48.7,"k":"NH"},{"e":401.63,"i":28.7,"e2":401.27,"i2":20.3,"k":"NH3"},{"e":396.82,"i":25.3,"e2":396.99,"i2":15.3,"k":"NC"}]
},
"columns":2,
"spacing":{"row":41,"column":40},
"align":"none",
"bounds":"flush",
"resolve":{"scale":{"x":"independent","y":"independent","color":"independent"}},
"concat":[
{"width":200,"height":145,"resolve":{"scale":{"color":"independent"}},"layer":[
{"data":{"name":"a_lines"},"mark":{"type":"line","strokeWidth":1.2},"encoding":{
"x":{"field":"e","type":"quantitative","scale":{"domain":[100,900],"reverse":true,"nice":false,"zero":false},"axis":{"values":[900,800,700,600,500,400,300,200,100],"tickCount":50,"format":"d","labelOverlap":false,"title":"Binding energy (eV)","titlePadding":3}},
"y":{"field":"i","type":"quantitative","scale":{"domain":[0,145],"nice":false,"zero":false},"axis":{"labels":false,"ticks":false,"title":"Intensity","titlePadding":8}},
"color":{"field":"s","type":"nominal","scale":{"domain":["N-CMCS","N-CMCS+Cr-Cit"],"range":["#000000","#ff2020"]},"legend":null}}},
{"data":{"name":"a_leg"},"mark":{"type":"rule","strokeWidth":1.5},"encoding":{"x":{"field":"e","type":"quantitative"},"x2":{"field":"e2"},"y":{"field":"i","type":"quantitative"},"color":{"field":"s","type":"nominal","scale":{"domain":["N-CMCS","N-CMCS+Cr-Cit"],"range":["#000000","#ff2020"]},"legend":null}}},
{"data":{"name":"a_arr"},"mark":{"type":"rule","strokeWidth":1,"color":"#ff2020"},"encoding":{"x":{"field":"e","type":"quantitative"},"x2":{"field":"e2"},"y":{"field":"i","type":"quantitative"},"y2":{"field":"i2"}}},
{"data":{"name":"a_lab"},"mark":{"type":"text","fontSize":11,"baseline":"middle"},"encoding":{"x":{"field":"e","type":"quantitative"},"y":{"field":"i","type":"quantitative"},"text":{"field":"t"},"color":{"field":"k","type":"nominal","scale":{"domain":["sample","ref"],"range":["#ff2020","#000000"]},"legend":null}}},
{"data":{"values":[{"e":960.75,"i":142,"t":"(a)"}]},"mark":{"type":"text","font":"Liberation Serif","fontSize":14,"baseline":"middle","color":"black"},"encoding":{"x":{"field":"e","type":"quantitative"},"y":{"field":"i","type":"quantitative"},"text":{"field":"t"}}}
]},
{"width":199,"height":145,"resolve":{"scale":{"color":"independent"}},"layer":[
{"data":{"name":"b_raw"},"mark":{"type":"line","strokeWidth":0.9,"color":"#b0b0b0"},"encoding":{
"x":{"field":"e","type":"quantitative","scale":{"domain":[565,595],"reverse":true,"nice":false,"zero":false},"axis":{"values":[595,590,585,580,575,570,565],"tickCount":50,"format":"d","labelOverlap":false,"title":"Binding energy (eV)","titlePadding":3}},
"y":{"field":"i","type":"quantitative","scale":{"domain":[0,145],"nice":false,"zero":false},"axis":{"labels":false,"ticks":false,"title":"Intensity (a.u.)","titlePadding":5}}}},
{"data":{"name":"b_comp"},"transform":[{"filter":"datum.s != 'p2'"}],"mark":{"type":"line","strokeWidth":1.2,"interpolate":"monotone"},"encoding":{"x":{"field":"e","type":"quantitative"},"y":{"field":"i","type":"quantitative"},"color":{"field":"s","type":"nominal","scale":{"domain":["bg","p1","p2"],"range":["#2f9e36","#7a3fb0","#6a3aab"]},"legend":null}}},
{"data":{"name":"b_fit"},"mark":{"type":"line","strokeWidth":1.3,"interpolate":"monotone","color":"#ff2020"},"encoding":{"x":{"field":"e","type":"quantitative"},"y":{"field":"i","type":"quantitative"}}},
{"data":{"name":"b_comp"},"transform":[{"filter":"datum.s == 'p2'"}],"mark":{"type":"line","strokeWidth":1.2,"interpolate":"monotone","color":"#6a3aab"},"encoding":{"x":{"field":"e","type":"quantitative"},"y":{"field":"i","type":"quantitative"}}},
{"data":{"name":"b_arr"},"mark":{"type":"rule","strokeWidth":1},"encoding":{"x":{"field":"e","type":"quantitative"},"x2":{"field":"e2"},"y":{"field":"i","type":"quantitative"},"y2":{"field":"i2"},"color":{"field":"k","type":"nominal","scale":{"domain":["sample","Cr1","Cr2"],"range":["#ff2020","#a850c0","#6a3aab"]},"legend":null}}},
{"data":{"name":"b_lab"},"mark":{"type":"text","fontSize":11,"baseline":"middle"},"encoding":{"x":{"field":"e","type":"quantitative"},"y":{"field":"i","type":"quantitative"},"text":{"field":"t"},"color":{"field":"k","type":"nominal","scale":{"domain":["sample","Cr1","Cr2"],"range":["#ff2020","#a850c0","#6a3aab"]},"legend":null}}},
{"data":{"values":[{"e":597.5,"i":142,"t":"(b)"}]},"mark":{"type":"text","font":"Liberation Serif","fontSize":14,"baseline":"middle","color":"black"},"encoding":{"x":{"field":"e","type":"quantitative"},"y":{"field":"i","type":"quantitative"},"text":{"field":"t"}}}
]},
{"width":200,"height":144,"resolve":{"scale":{"color":"independent"}},"layer":[
{"data":{"name":"c_comp"},"mark":{"type":"line","strokeWidth":1.2,"interpolate":"monotone"},"encoding":{
"x":{"field":"e","type":"quantitative","scale":{"domain":[279.2,290.4],"reverse":true,"nice":false,"zero":false},"axis":{"values":[290,288,286,284,282,280],"tickCount":50,"format":"d","labelOverlap":false,"title":"Binding energy (eV)","titlePadding":1}},
"y":{"field":"i","type":"quantitative","scale":{"domain":[0,144],"nice":false,"zero":false},"axis":{"labels":false,"ticks":false,"title":"Intensity (a.u.)","titlePadding":15}},
"color":{"field":"s","type":"nominal","scale":{"domain":["tCC","tCO","tCO2","tCN","bCC","bCO","bCN"],"range":["#6a3aab","#2f9e36","#ff8c1a","#b040b4","#6a3aab","#2f9e36","#b040b4"]},"legend":null}}},
{"data":{"name":"c_data"},"mark":{"type":"line","strokeWidth":2,"color":"#000000"},"encoding":{"x":{"field":"e","type":"quantitative"},"y":{"field":"i","type":"quantitative"},"detail":{"field":"s"}}},
{"data":{"name":"c_fit"},"mark":{"type":"line","strokeWidth":1.2,"interpolate":"monotone","color":"#ff2020"},"encoding":{"x":{"field":"e","type":"quantitative"},"y":{"field":"i","type":"quantitative"},"detail":{"field":"s"}}},
{"mark":{"type":"rule","color":"black","strokeWidth":1},"encoding":{"y":{"datum":74}}},
{"data":{"name":"c_arr"},"mark":{"type":"rule","strokeWidth":1},"encoding":{"x":{"field":"e","type":"quantitative"},"x2":{"field":"e2"},"y":{"field":"i","type":"quantitative"},"y2":{"field":"i2"},"color":{"field":"k","type":"nominal","scale":{"domain":["sample","C-C","C-O","C=O","C-N"],"range":["#ff2020","#6a3aab","#2f9e36","#ff8c1a","#b040b4"]},"legend":null}}},
{"data":{"name":"c_lab"},"mark":{"type":"text","fontSize":10.5,"baseline":"middle"},"encoding":{"x":{"field":"e","type":"quantitative"},"y":{"field":"i","type":"quantitative"},"text":{"field":"t"},"color":{"field":"k","type":"nominal","scale":{"domain":["sample","C-C","C-O","C=O","C-N"],"range":["#ff2020","#6a3aab","#2f9e36","#ff8c1a","#b040b4"]},"legend":null}}},
{"data":{"values":[{"e":291.0,"i":141.3,"t":"(c)"}]},"mark":{"type":"text","font":"Liberation Serif","fontSize":14,"baseline":"middle","color":"black"},"encoding":{"x":{"field":"e","type":"quantitative"},"y":{"field":"i","type":"quantitative"},"text":{"field":"t"}}}
]},
{"width":202,"height":144,"resolve":{"scale":{"color":"independent"}},"layer":[
{"data":{"name":"d_comp"},"mark":{"type":"line","strokeWidth":1.2,"interpolate":"monotone"},"encoding":{
"x":{"field":"e","type":"quantitative","scale":{"domain":[393.7,404.5],"reverse":true,"nice":false,"zero":false},"axis":{"values":[404,402,400,398,396,394],"tickCount":50,"format":"d","labelOverlap":false,"title":"Binding energy (eV)","titlePadding":1}},
"y":{"field":"i","type":"quantitative","scale":{"domain":[0,144],"nice":false,"zero":false},"axis":{"labels":false,"ticks":false,"title":"Intensity (a.u.)","titlePadding":9}},
"color":{"field":"s","type":"nominal","scale":{"domain":["tNH","tNH3","tNC","bNH","bNH3","bNC"],"range":["#6a3aab","#b040b4","#2f9e36","#6a3aab","#b040b4","#2f9e36"]},"legend":null}}},
{"data":{"name":"d_data"},"mark":{"type":"line","strokeWidth":2,"color":"#000000"},"encoding":{"x":{"field":"e","type":"quantitative"},"y":{"field":"i","type":"quantitative"},"detail":{"field":"s"}}},
{"data":{"name":"d_fit"},"mark":{"type":"line","strokeWidth":1.2,"interpolate":"monotone","color":"#ff2020"},"encoding":{"x":{"field":"e","type":"quantitative"},"y":{"field":"i","type":"quantitative"},"detail":{"field":"s"}}},
{"mark":{"type":"rule","color":"black","strokeWidth":1},"encoding":{"y":{"datum":74}}},
{"data":{"name":"d_arr"},"mark":{"type":"rule","strokeWidth":1},"encoding":{"x":{"field":"e","type":"quantitative"},"x2":{"field":"e2"},"y":{"field":"i","type":"quantitative"},"y2":{"field":"i2"},"color":{"field":"k","type":"nominal","scale":{"domain":["sample","NH","NH3","NC"],"range":["#ff2020","#6a3aab","#b040b4","#2f9e36"]},"legend":null}}},
{"data":{"name":"d_lab"},"mark":{"type":"text","fontSize":10.5,"baseline":"middle"},"encoding":{"x":{"field":"e","type":"quantitative"},"y":{"field":"i","type":"quantitative"},"text":{"field":"t"},"color":{"field":"k","type":"nominal","scale":{"domain":["sample","NH","NH3","NC"],"range":["#ff2020","#6a3aab","#b040b4","#2f9e36"]},"legend":null}}},
{"data":{"values":[{"e":405.03,"i":142,"t":"(d)"}]},"mark":{"type":"text","font":"Liberation Serif","fontSize":14,"baseline":"middle","color":"black"},"encoding":{"x":{"field":"e","type":"quantitative"},"y":{"field":"i","type":"quantitative"},"text":{"field":"t"}}}
]}
]
}
